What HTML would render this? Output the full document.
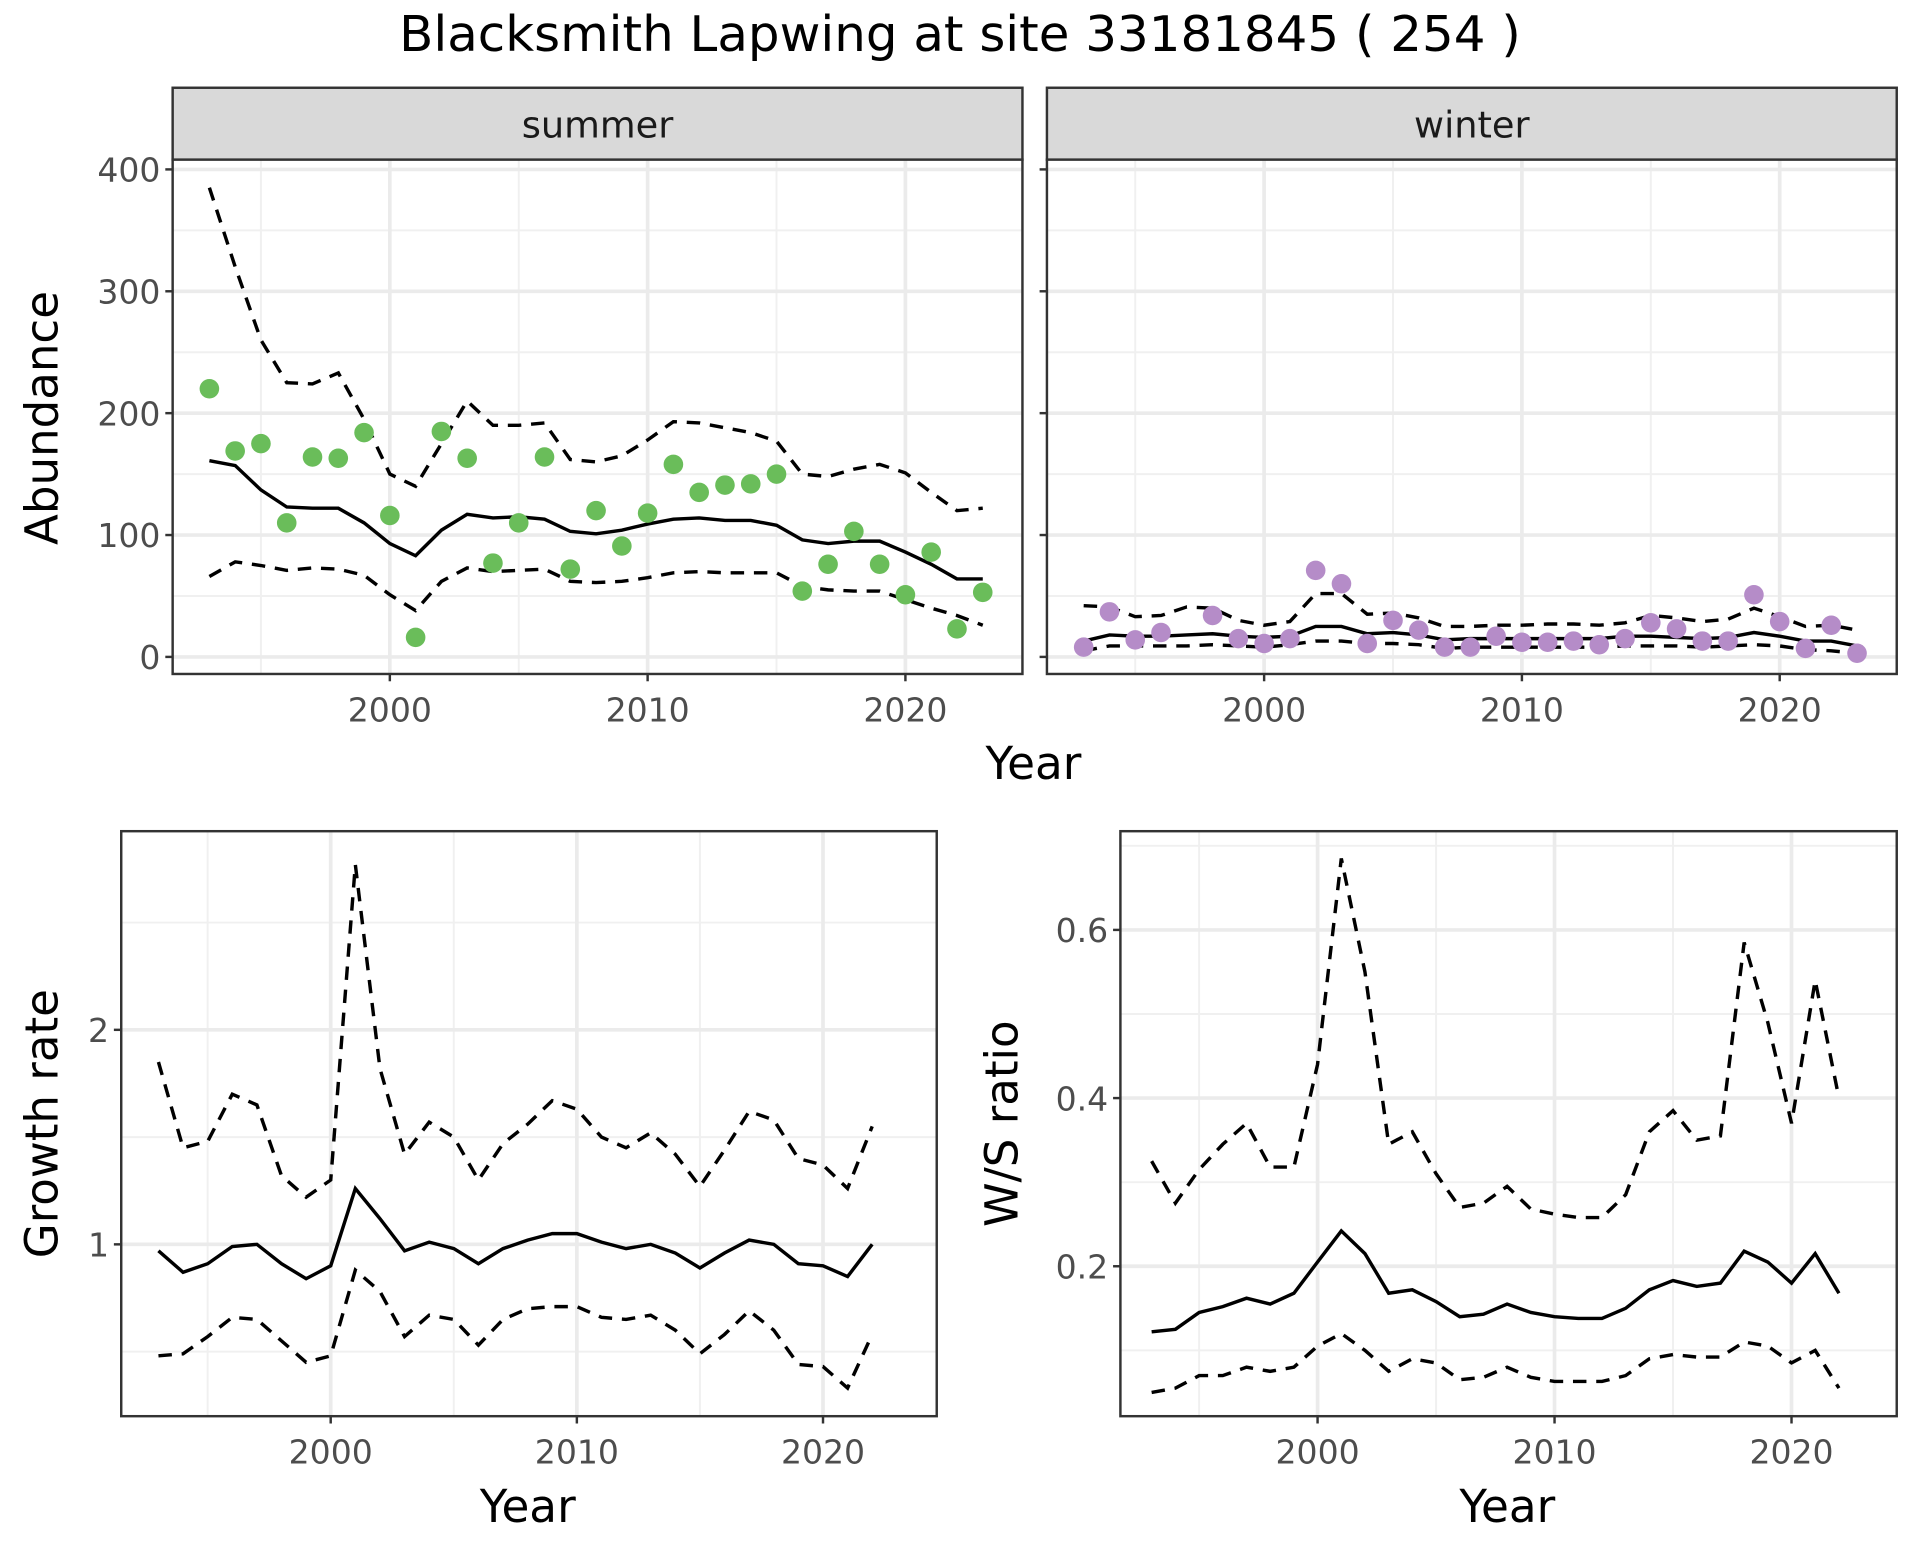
<!DOCTYPE html>
<html><head><meta charset="utf-8"><style>
html,body{margin:0;padding:0;background:#fff;}
svg{display:block;font-family:"DejaVu Sans","Liberation Sans",sans-serif;}
</style></head><body>
<svg id="chart" width="1920" height="1560" viewBox="0 0 1568 1280" preserveAspectRatio="none" xmlns="http://www.w3.org/2000/svg">
<rect width="1568" height="1280" fill="#fff"/>
<text x="784" y="42" text-anchor="middle" font-size="40" fill="#000" textLength="916" lengthAdjust="spacingAndGlyphs">Blacksmith Lapwing at site 33181845 ( 254 )</text>
</svg>
<script>
const years = [1993,1994,1995,1996,1997,1998,1999,2000,2001,2002,2003,2004,2005,2006,2007,2008,2009,2010,2011,2012,2013,2014,2015,2016,2017,2018,2019,2020,2021,2022,2023];
const summerObs = [220,169,175,110,164,163,184,116,16,185,163,77,110,164,72,120,91,118,158,135,141,142,150,54,76,103,76,51,86,23,53];
const summerMean = [161,157,137,123,122,122,110,93,83,104,117,114,115,113,103,101,104,109,113,114,112,112,108,96,93,95,95,86,76,64,64];
const summerUpper = [385,320,260,225,224,233,195,150,140,175,210,190,190,192,162,160,165,178,193,192,188,184,177,150,148,154,158,151,135,120,122];
const summerLower = [66,78,75,71,73,72,67,51,38,62,73,70,71,72,62,61,62,65,69,70,69,69,69,58,55,54,54,47,40,34,26];
const winterObs = [8,37,14,20,null,34,15,11,15,71,60,11,30,22,8,8,17,12,12,13,10,15,28,23,13,13,51,29,7,26,3];
const winterMean = [13,18,17,17,18,19,17,16,17,25,25,19,20,18,14,15,15,15,15,15,15,17,17,16,15,16,20,17,13,13,9];
const winterUpper = [42,41,33,34,41,40,30,26,29,52,52,35,36,32,25,25,26,26,27,27,26,28,34,32,29,31,40,33,25,26,22];
const winterLower = [5,9,9,9,9,10,9,8,10,13,13,11,11,10,7,8,8,8,8,8,8,9,9,9,8,9,10,9,6,5,3];
const grYears = [1993,1994,1995,1996,1997,1998,1999,2000,2001,2002,2003,2004,2005,2006,2007,2008,2009,2010,2011,2012,2013,2014,2015,2016,2017,2018,2019,2020,2021,2022];
const grMean = [0.97,0.87,0.91,0.99,1.0,0.91,0.84,0.9,1.26,1.12,0.97,1.01,0.98,0.91,0.98,1.02,1.05,1.05,1.01,0.98,1.0,0.96,0.89,0.96,1.02,1.0,0.91,0.9,0.85,1.0];
const grUpper = [1.85,1.45,1.48,1.7,1.65,1.32,1.22,1.3,2.77,1.82,1.42,1.57,1.5,1.3,1.47,1.56,1.67,1.63,1.5,1.45,1.52,1.42,1.27,1.44,1.62,1.58,1.4,1.37,1.26,1.55];
const grLower = [0.48,0.49,0.57,0.66,0.65,0.55,0.45,0.48,0.88,0.78,0.57,0.67,0.65,0.53,0.65,0.7,0.71,0.71,0.66,0.65,0.67,0.6,0.49,0.58,0.69,0.6,0.44,0.43,0.33,0.58];
const wsMean = [0.122,0.125,0.145,0.152,0.162,0.155,0.168,0.205,0.242,0.215,0.168,0.172,0.158,0.14,0.143,0.155,0.145,0.14,0.138,0.138,0.15,0.172,0.183,0.176,0.18,0.218,0.205,0.18,0.215,0.168];
const wsUpper = [0.325,0.275,0.315,0.345,0.37,0.318,0.318,0.44,0.685,0.55,0.345,0.36,0.31,0.27,0.275,0.295,0.268,0.262,0.258,0.258,0.285,0.36,0.385,0.35,0.355,0.585,0.49,0.37,0.54,0.4];
const wsLower = [0.05,0.055,0.07,0.07,0.08,0.075,0.08,0.105,0.12,0.1,0.075,0.09,0.085,0.065,0.068,0.08,0.068,0.063,0.063,0.063,0.07,0.09,0.095,0.092,0.092,0.11,0.105,0.085,0.1,0.055];
const xTicks = [2000,2010,2020];
const xMinor = [1995,2005,2015];
const abTicks = [0,100,200,300,400];
const abMinor = [50,150,250,350];
const grTicks = [1,2];
const grMinor = [0.5,1.5,2.5];
const wsTicks = [0.2,0.4,0.6];
const wsMinor = [0.1,0.3,0.5,0.7];

const NS="http://www.w3.org/2000/svg";
const svg=document.getElementById('chart');
function mk(tag,attrs,parent){const e=document.createElementNS(NS,tag);for(const k in attrs)e.setAttribute(k,attrs[k]);(parent||svg).appendChild(e);return e;}
function lin(d0,d1,r0,r1){return v=>r0+(v-d0)*(r1-r0)/(d1-d0);}
const TF=27;

function panel(name,p){
  const g=mk('g',{});
  
  
  const x=lin(p.xd[0],p.xd[1],p.x0,p.x1), y=lin(p.yd[0],p.yd[1],p.y1,p.y0);
  mk('rect',{x:p.x0,y:p.y0,width:p.x1-p.x0,height:p.y1-p.y0,fill:'#fff'},g);
  p.xMinor.forEach(v=>{const l=mk('line',{x1:x(v),x2:x(v),y1:p.y0,y2:p.y1,stroke:'#f0f0f0','stroke-width':1.6},g);});
  p.yMinor.forEach(v=>{const yy=y(v);if(yy<p.y0||yy>p.y1)return;const l=mk('line',{x1:p.x0,x2:p.x1,y1:yy,y2:yy,stroke:'#f0f0f0','stroke-width':1.6},g);});
  p.xTicks.forEach(v=>{const l=mk('line',{x1:x(v),x2:x(v),y1:p.y0,y2:p.y1,stroke:'#ebebeb','stroke-width':3},g);
    mk('line',{x1:x(v),x2:x(v),y1:p.y1,y2:p.y1+6,stroke:'#333','stroke-width':2},g);
    const t=mk('text',{x:x(v),y:p.y1+39,'text-anchor':'middle','font-size':TF,fill:'#4d4d4d'},g);t.textContent=v;});
  p.yTicks.forEach(v=>{const yy=y(v);const l=mk('line',{x1:p.x0,x2:p.x1,y1:yy,y2:yy,stroke:'#ebebeb','stroke-width':3},g);
    mk('line',{x1:p.x0-6,x2:p.x0,y1:yy,y2:yy,stroke:'#333','stroke-width':2},g);
    if(p.yLabels){const t=mk('text',{x:p.x0-10,y:yy+10,'text-anchor':'end','font-size':TF,fill:'#4d4d4d'},g);t.textContent=p.fmt?p.fmt(v):v;}});
  const line=(xs,vals,dash,nm)=>{let d='';vals.forEach((v,i)=>{if(v==null)return;d+=(d?'L':'M')+x(xs[i]).toFixed(1)+','+y(v).toFixed(1);});
    const pa=mk('path',{d:d,fill:'none',stroke:'#000','stroke-width':2.8,'stroke-dasharray':dash?'11,8':'none'},g);};
  line(p.xs,p.upper,true,name+'-upper-line');
  line(p.xs,p.lower,true,name+'-lower-line');
  line(p.xs,p.mean,false,name+'-mean-line');
  if(p.obs){p.obs.forEach((v,i)=>{if(v==null)return;const c=mk('circle',{cx:x(p.xs[i]),cy:y(v),r:8,fill:p.color},g);});}
  mk('rect',{x:p.x0,y:p.y0,width:p.x1-p.x0,height:p.y1-p.y0,fill:'none',stroke:'#333','stroke-width':2},g);
  return g;
}
function txt(s,x,y,size,name,rot){const t=mk('text',{x:x,y:y,'text-anchor':'middle','font-size':size,fill:'#000'});if(rot)t.setAttribute('transform','rotate(-90 '+x+' '+y+')');t.textContent=s;}

[['summer',141,835],['winter',855,1549]].forEach(s=>{
  const r=mk('rect',{x:s[1],y:72,width:s[2]-s[1],height:59,fill:'#d9d9d9',stroke:'#333','stroke-width':2});
  
  const t=mk('text',{x:(s[1]+s[2])/2,y:113,'text-anchor':'middle','font-size':30,fill:'#1a1a1a'});t.textContent=s[0];
  
});
panel('summer',{x0:141,x1:835,y0:131,y1:553,xd:[1991.575,2024.54],xs:years,
  yd:[-14,408],xTicks,xMinor,yTicks:abTicks,yMinor:abMinor,yLabels:true,
  mean:summerMean,upper:summerUpper,lower:summerLower,obs:summerObs,color:'#6abd5a'});
panel('winter',{x0:855,x1:1549,y0:131,y1:553,xd:[1991.575,2024.54],xs:years,
  yd:[-14,408],xTicks,xMinor,yTicks:abTicks,yMinor:abMinor,yLabels:false,
  mean:winterMean,upper:winterUpper,lower:winterLower,obs:winterObs,color:'#b58cc8'});
panel('growth',{x0:99,x1:765,y0:682,y1:1162,xd:[1991.49,2024.62],xs:grYears,
  yd:[0.199,2.926],xTicks,xMinor,yTicks:grTicks,yMinor:grMinor,yLabels:true,
  mean:grMean,upper:grUpper,lower:grLower});
panel('ratio',{x0:915,x1:1549,y0:682,y1:1162,xd:[1991.68,2024.44],xs:grYears,
  yd:[0.0217,0.7174],xTicks,xMinor,yTicks:wsTicks,yMinor:wsMinor,yLabels:true,fmt:v=>v.toFixed(1),
  mean:wsMean,upper:wsUpper,lower:wsLower});
txt('Year',844,639,37,'top-x-axis-title');
txt('Abundance',47,343,37,'abundance-y-axis-title',true);
txt('Year',431,1249,37,'growth-x-axis-title');
txt('Growth rate',47,922,37,'growth-y-axis-title',true);
txt('Year',1231,1249,37,'ratio-x-axis-title');
txt('W/S ratio',831,922,37,'ratio-y-axis-title',true);
</script>
</body></html>
